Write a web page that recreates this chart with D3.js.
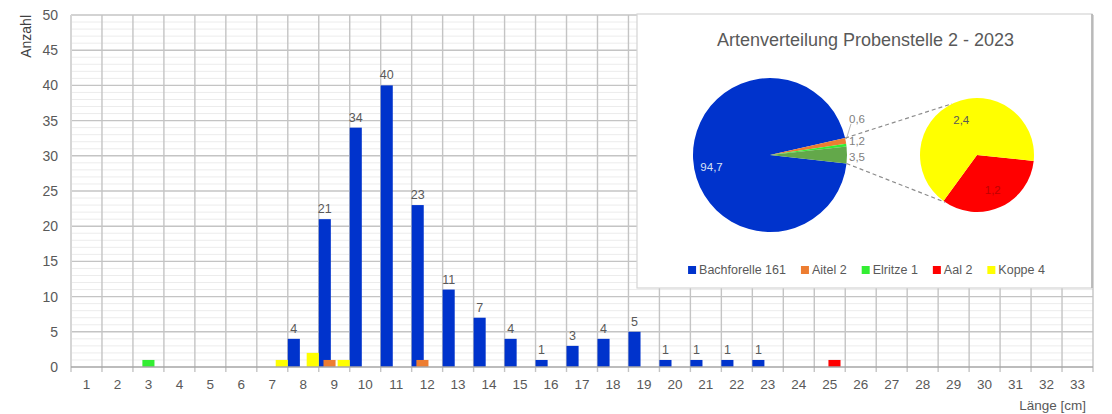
<!DOCTYPE html>
<html><head><meta charset="utf-8">
<script src="https://cdn.jsdelivr.net/npm/d3@7"></script>
<style>body{margin:0;background:#fff}svg{display:block;font-family:"Liberation Sans",Arial,sans-serif}</style>
</head><body><svg id="c" width="1112" height="414"></svg>
<script>
// ---------- data ----------
const categories = ["1","2","3","4","5","6","7","8","9","10","11","12","13","14","15","16","17","18","19","20","21","22","23","24","25","26","27","28","29","30","31","32","33"];
const bachforelle = [0,0,0,0,0,0,0,4,21,34,40,23,11,7,4,1,3,4,5,1,1,1,1,0,0,0,0,0,0,0,0,0,0];
const aitel       = [0,0,0,0,0,0,0,0,1,0,0,1,0,0,0,0,0,0,0,0,0,0,0,0,0,0,0,0,0,0,0,0,0];
const elritze     = [0,0,1,0,0,0,0,0,0,0,0,0,0,0,0,0,0,0,0,0,0,0,0,0,0,0,0,0,0,0,0,0,0];
const aal         = [0,0,0,0,0,0,0,0,0,0,0,0,0,0,0,0,0,0,0,0,0,0,0,0,1,0,0,0,0,0,0,0,0];
const koppe       = [0,0,0,0,0,0,1,2,1,0,0,0,0,0,0,0,0,0,0,0,0,0,0,0,0,0,0,0,0,0,0,0,0];
const seriesNames = ["Bachforelle","Aitel","Elritze","Aal","Koppe"];
const seriesColors = ["#0033CC","#ED7D31","#33EE33","#FF0000","#FFFF00"];
const yTicks = [0,5,10,15,20,25,30,35,40,45,50];
const yTitle = "Anzahl";
const xTitle = "Länge [cm]";

const pieTitle = "Artenverteilung Probenstelle 2 - 2023";
const pieSpecies = ["Bachforelle","Aitel","Elritze","Aal","Koppe"];
const pieCounts = [161,2,1,2,4];
const pieColors = ["#0033CC","#ED7D31","#33EE33","#FF0000","#FFFF00"];
const otherColor = "#63a84a";
const secondaryNames = ["Aal","Koppe"];

// ---------- setup ----------
const svg = d3.select("#c");
const L = 71, R = 1093, T = 15, B = 367;
const x = d3.scaleBand().domain(categories).range([L, R]).padding(0);
const y = d3.scaleLinear().domain([0, 50]).range([B, T]);
const barW = x.bandwidth() * 0.39;
const off = d3.scaleLinear().domain([0, 4]).range([0, x.bandwidth() - barW]);
const series = [bachforelle, aitel, elritze, aal, koppe];
const txt = "#595959";

// minor horizontal gridlines
const minor = d3.range(1, 50).filter(v => v % 5 !== 0);
svg.append("g").selectAll("line").data(minor).join("line")
  .attr("x1", L).attr("x2", R).attr("y1", d => y(d)).attr("y2", d => y(d))
  .attr("stroke", "#ececec").attr("stroke-width", 1);
// major gridlines
svg.append("g").selectAll("line").data(yTicks.filter(v => v > 0)).join("line")
  .attr("x1", L).attr("x2", R).attr("y1", d => y(d)).attr("y2", d => y(d))
  .attr("stroke", "#c4c4c4").attr("stroke-width", 1.4);
// vertical gridlines at category boundaries
const bounds = categories.map(c => x(c)).concat([x(categories[categories.length-1]) + x.bandwidth()]);
svg.append("g").selectAll("line").data(bounds).join("line")
  .attr("x1", d => d).attr("x2", d => d).attr("y1", T).attr("y2", B + 5)
  .attr("stroke", (d, i) => i === 0 ? "#d6d6d6" : "#c4c4c4").attr("stroke-width", (d, i) => i === 0 ? 2 : 1.4);

// bars
series.forEach((vals, s) => {
  svg.append("g").selectAll("rect").data(vals.map((v, i) => ({v, c: categories[i]})).filter(d => d.v > 0)).join("rect")
    .attr("x", d => x(d.c) + off(s)).attr("width", barW)
    .attr("y", d => y(d.v)).attr("height", d => y(0) - y(d.v))
    .attr("fill", seriesColors[s]);
});
// data labels for Bachforelle
svg.append("g").selectAll("text").data(bachforelle.map((v, i) => ({v, c: categories[i]})).filter(d => d.v > 0)).join("text")
  .attr("x", d => x(d.c) + off(0) + barW / 2).attr("y", d => y(d.v) - 6)
  .attr("text-anchor", "middle").attr("font-size", 12.5).attr("fill", txt).text(d => d.v);

// x axis line
svg.append("line").attr("x1", L).attr("x2", R).attr("y1", B).attr("y2", B)
  .attr("stroke", "#a6a6a6").attr("stroke-width", 1.5);
// x axis labels
const xa = svg.append("g").attr("transform", `translate(0,${B})`)
  .call(d3.axisBottom(x).tickSize(0).tickPadding(12));
xa.select(".domain").remove();
xa.selectAll("text").attr("font-size", 13.5).attr("fill", txt).attr("font-family", "Liberation Sans, Arial, sans-serif");
// y axis labels
const ya = svg.append("g").attr("transform", `translate(${L},0)`)
  .call(d3.axisLeft(y).tickValues(yTicks).tickSize(0).tickPadding(13));
ya.select(".domain").remove();
ya.selectAll("text").attr("font-size", 14).attr("fill", txt).attr("font-family", "Liberation Sans, Arial, sans-serif");
// axis titles
svg.append("text").attr("transform", `translate(31,${T}) rotate(-90)`).attr("text-anchor", "end")
  .attr("font-size", 14).attr("fill", "#404040").text(yTitle);
svg.append("text").attr("x", 1086).attr("y", 410).attr("text-anchor", "end")
  .attr("font-size", 13.5).attr("fill", txt).text(xTitle);

// ---------- pie panel ----------
const P = {x: 637, y: 14, w: 455, h: 274};
svg.append("rect").attr("x", P.x).attr("y", P.y).attr("width", P.w).attr("height", P.h)
  .attr("fill", "#fff").attr("stroke", "#d4d4d4").attr("stroke-width", 1.2);
svg.append("line").attr("x1", P.x + P.w).attr("x2", P.x + P.w).attr("y1", P.y).attr("y2", P.y + P.h)
  .attr("stroke", "#b0b0b0").attr("stroke-width", 1.5);
svg.append("text").attr("x", P.x + P.w / 2 + 1).attr("y", 46).attr("text-anchor", "middle")
  .attr("font-size", 18).attr("fill", txt).text(pieTitle);

const total = d3.sum(pieCounts);
const loc = d3.formatLocale({decimal: ",", thousands: ".", grouping: [3], currency: ["", "€"]});
const pct = v => loc.format(".1f")(v / total * 100);
const secIdx = secondaryNames.map(n => pieSpecies.indexOf(n));
const mainIdx = pieSpecies.map((n, i) => i).filter(i => !secIdx.includes(i));
const otherV = d3.sum(secIdx, i => pieCounts[i]);
const mainData = mainIdx.map(i => ({v: pieCounts[i], color: pieColors[i], lab: pct(pieCounts[i])}))
  .concat([{v: otherV, color: otherColor, lab: pct(otherV)}]);
const mainC = {x: 770, y: 155, r: 77};
const otherFrac = otherV / total;
const sa = Math.PI / 2 - otherFrac * Math.PI - (1 - otherFrac) * 2 * Math.PI;
const mainArcs = d3.pie().sort(null).value(d => d.v).startAngle(sa).endAngle(sa + 2 * Math.PI)(mainData);
const arc = d3.arc().innerRadius(0);
const gm = svg.append("g").attr("transform", `translate(${mainC.x},${mainC.y})`);
gm.selectAll("path").data(mainArcs).join("path")
  .attr("d", d => arc.outerRadius(mainC.r)(d)).attr("fill", d => d.data.color);

const secData = secIdx.map(i => ({v: pieCounts[i], color: pieColors[i], lab: pct(pieCounts[i])}));
const secC = {x: 977, y: 155, r: 57};
const sa2 = 96 * Math.PI / 180;
const secArcs = d3.pie().sort(null).value(d => d.v).startAngle(sa2).endAngle(sa2 + 2 * Math.PI)(secData);
const gs = svg.append("g").attr("transform", `translate(${secC.x},${secC.y})`);
gs.selectAll("path").data(secArcs).join("path")
  .attr("d", d => arc.outerRadius(secC.r)(d)).attr("fill", d => d.data.color);

const pt = (c, a, r) => [c.x + r * Math.sin(a), c.y - r * Math.cos(a)];
// connector lines
const topA = mainArcs[1].startAngle, botA = mainArcs[mainArcs.length - 1].endAngle;
const conns = [[pt(mainC, topA, mainC.r), pt(secC, -26 * Math.PI / 180, secC.r)],
               [pt(mainC, botA, mainC.r), pt(secC, 214 * Math.PI / 180, secC.r)]];
svg.append("g").selectAll("line").data(conns).join("line")
  .attr("x1", d => d[0][0]).attr("y1", d => d[0][1]).attr("x2", d => d[1][0]).attr("y2", d => d[1][1])
  .attr("stroke", "#8c8c8c").attr("stroke-width", 1.2).attr("stroke-dasharray", "4,3");

// main pie labels
const mid = d => (d.startAngle + d.endAngle) / 2;
const bl = pt(mainC, mid(mainArcs[0]), mainC.r * 0.76);
svg.append("text").attr("x", bl[0]).attr("y", bl[1] + 13).attr("text-anchor", "middle")
  .attr("font-size", 11.5).attr("fill", "#d9e2f3").text(mainArcs[0].data.lab);
const lx = mainC.x + mainC.r + 2;
const aitelY = pt(mainC, mid(mainArcs[1]), mainC.r)[1];
const otherY = pt(mainC, mid(mainArcs[3]), mainC.r)[1];
const elrY = aitelY - 22;
const smallLabs = [{t: mainArcs[1].data.lab, y: aitelY}, {t: mainArcs[2].data.lab, y: elrY}, {t: mainArcs[3].data.lab, y: otherY + 2}];
svg.append("g").selectAll("text").data(smallLabs).join("text")
  .attr("x", lx).attr("y", d => d.y + 4).attr("font-size", 11.5).attr("fill", "#808080").text(d => d.t);
const ep = pt(mainC, mid(mainArcs[2]), mainC.r);
svg.append("line").attr("x1", lx + 2).attr("y1", elrY + 5).attr("x2", ep[0]).attr("y2", ep[1] - 6)
  .attr("stroke", "#a6a6a6").attr("stroke-width", 0.8);
// secondary pie labels
svg.append("g").selectAll("text").data(secArcs).join("text")
  .attr("x", d => pt(secC, mid(d), secC.r * 0.68)[0]).attr("y", d => pt(secC, mid(d), secC.r * 0.68)[1] + 4)
  .attr("text-anchor", "middle").attr("font-size", 11.5)
  .attr("fill", (d, i) => i === 0 ? "#c00000" : "#595959").text(d => d.data.lab);

// legend
const lg = svg.append("g");
const legItems = pieSpecies.map((n, i) => ({t: n + " " + pieCounts[i], c: pieColors[i]}));
let cx = 0;
const items = lg.selectAll("g").data(legItems).join("g");
items.append("rect").attr("width", 8).attr("height", 8).attr("y", -8).attr("fill", d => d.c);
items.append("text").attr("x", 11).attr("y", 0).attr("font-size", 12.5).attr("fill", txt).text(d => d.t);
items.each(function() {
  const w = d3.select(this).select("text").node().getComputedTextLength() + 11;
  d3.select(this).attr("transform", `translate(${cx},0)`);
  cx += w + 15;
});
const lw = cx - 15;
lg.attr("transform", `translate(${P.x + P.w / 2 + 2 - lw / 2},274)`);
</script></body></html>
